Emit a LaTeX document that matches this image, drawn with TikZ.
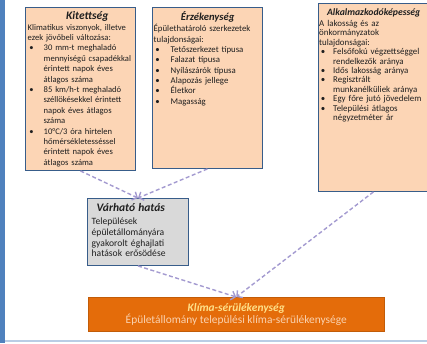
\documentclass[tikz,border=0pt]{standalone}
\usepackage{fontspec}
\setmainfont{Carlito}
\usepackage{enumitem}
\usepackage{tikz}
\usetikzlibrary{positioning, arrows.meta}
\definecolor{Peach}{HTML}{FCD5B5}
\definecolor{Frame}{HTML}{385D8A}
\definecolor{Grey}{HTML}{D9D9D9}
\definecolor{Flame}{HTML}{E46C0A}
\definecolor{Lav}{HTML}{A39AD0}
\definecolor{Bar}{HTML}{4F81BD}
\definecolor{Rule}{HTML}{B9CDE5}
\definecolor{TitleYel}{HTML}{FFE18A}
\definecolor{SubPeach}{HTML}{FAD2B0}
\setlist[itemize]{nosep, label=\textbullet, leftmargin=16pt, labelsep=10pt}
\newcommand{\boxtitle}[1]{{\centering\textbf{\textit{#1}}\par}}

\begin{document}
\begin{tikzpicture}[
      x=1pt, y=-1pt,
      box/.style={draw=Frame, line width=0.9pt, fill=Peach, anchor=north west, inner sep=0pt},
      txt/.style={text width=#1, align=left, inner sep=0pt, text=black!88},
      arr/.style={-{Straight Barb[length=4pt,width=9pt]}, dashed, dash pattern=on 4pt off 2.5pt, line width=1.4pt, Lav}
    ]
      \useasboundingbox (0,0) rectangle (427,343);
      % frame of the slide
      \fill[Bar] (0,0) rectangle (5,343);
      \draw[Rule, line width=1.2pt] (5,341) -- (427,341);

      % the three input boxes
      \node[box, minimum width=110pt, minimum height=163pt] (kit) at (25,7) {};
      \node[box, minimum width=110pt, minimum height=161pt] (erz) at (152,7) {};
      \node[box, minimum width=110pt, minimum height=188pt] (alk) at (318,3) {};

      \node[txt=114pt, below right=4pt and 2.5pt of kit.north west, font=\fontsize{8.6}{10.4}\selectfont] (kittxt) {%
        \boxtitle{\fontsize{11.5}{11.5}\selectfont\hspace*{5pt}Kitettség}\vspace{0.5pt}
        Klimatikus viszonyok, illetve\\ ezek jövőbeli változása:
        \begin{itemize}
          \item 30 mm-t meghaladó\\ mennyiségű csapadékkal\\ érintett napok éves\\ átlagos száma
          \item 85 km/h-t meghaladó\\ széllökésekkel érintett\\ napok éves átlagos\\ száma
          \item 10°C/3 óra hirtelen\\ hőmérsékletesséssel\\ érintett napok éves\\ átlagos száma
        \end{itemize}};
      \node[txt=108pt, below right=4.5pt and 1.5pt of erz.north west, font=\fontsize{8.8}{10.3}\selectfont] (erztxt) {%
        \boxtitle{\fontsize{10.6}{11}\selectfont Érzékenység}\vspace{1pt}
        Épülethatároló szerkezetek\\ tulajdonságai:
        \begin{itemize}[leftmargin=17pt, labelsep=11pt]
          \item Tetőszerkezet típusa
          \item Falazat típusa
          \item Nyílászárók típusa
          \item Alapozás jellege
          \item Életkor
          \item Magasság
        \end{itemize}};
      \node[txt=109pt, below right=5pt and 1pt of alk.north west, font=\fontsize{8.9}{9.4}\selectfont] (alktxt) {%
        \boxtitle{\fontsize{9.7}{10}\selectfont Alkalmazkodóképesség}\vspace{2pt}
        A lakosság és az\\ önkormányzatok\\ tulajdonságai:
        \begin{itemize}[leftmargin=14pt, labelsep=8pt]
          \item Felsőfokú végzettséggel\\ rendelkezők aránya
          \item Idős lakosság aránya
          \item Regisztrált\\ munkanélküliek aránya
          \item Egy főre jutó jövedelem
          \item Települési átlagos\\ négyzetméter ár
        \end{itemize}};

      % expected impact
      \node[box, fill=Grey, minimum width=101pt, minimum height=67pt] (var) at (87,198) {};
      \node[txt=95pt, below right=5pt and 4.5pt of var.north west, font=\fontsize{9.6}{10.8}\selectfont] (vartxt) {%
        \hspace*{5pt}{\fontsize{11.5}{12}\selectfont\textbf{\textit{Várható hatás}}}\par\vspace{2.5pt}
        Települések\\ épületállományára\\ gyakorolt éghajlati\\ hatások erősödése};

      % result
      \node[draw=Flame!85!black, line width=0.5pt, fill=Flame, anchor=north west, inner sep=0pt,
            minimum width=296pt, minimum height=34pt, align=center, text=TitleYel,
            font=\fontsize{11.4}{12}\selectfont] (klima) at (88,297)
        {\textbf{\textit{Klíma-sérülékenység}}\\ \textcolor{SubPeach}{Épületállomány települési klíma-sérülékenysége}};

      \foreach \a/\b in {kit/var, erz/var, var/klima, alk/klima}{\draw[arr] (\a.south) -- (\b.north);}
\end{tikzpicture}
\end{document}
